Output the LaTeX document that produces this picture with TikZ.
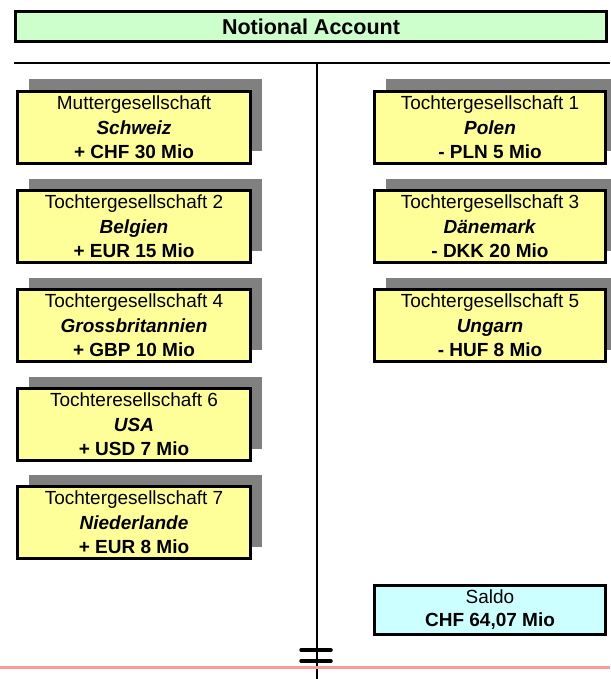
\documentclass[tikz,border=0pt]{standalone}
\usepackage{fontspec}
\setmainfont{Liberation Sans}
\usetikzlibrary{shadows}
\definecolor{titlegreen}{HTML}{CCFFCC}
\definecolor{boxyellow}{HTML}{FFFF99}
\definecolor{saldocyan}{HTML}{CCFFFF}
\definecolor{shadowgray}{HTML}{808080}
\definecolor{basered}{HTML}{FF9999}
\tikzset{
  titlebox/.style={draw=black, line width=3.5pt, fill=titlegreen, inner sep=0pt,
    minimum width=591pt, minimum height=30pt, font=\fontsize{21.5}{24}\selectfont\bfseries},
  company/.style={draw=black, line width=3.5pt, fill=boxyellow, inner sep=0pt,
    minimum height=72pt, align=center, font=\fontsize{19}{24.5}\selectfont,
    drop shadow={shadow xshift=11pt, shadow yshift=12pt, fill=shadowgray, opacity=1}},
  leftco/.style={company, minimum width=233pt},
  rightco/.style={company, minimum width=231pt},
  saldobox/.style={draw=black, line width=3.5pt, fill=saldocyan, inner sep=0pt,
    minimum width=231pt, minimum height=49pt, align=center, font=\fontsize{19}{23}\selectfont},
  busline/.style={line width=2.8pt, black},
  tick/.style={line width=3.5pt, black, line cap=round},
  baseline/.style={line width=3pt, basered}
}
\begin{document}
\begin{tikzpicture}[x=1pt,y=-1pt]
\useasboundingbox (0,0) rectangle (610,679);
% title
\node[titlebox] (title) at (311,26.5) {Notional Account};
% bus and trunk
\coordinate (busL) at (14,63);
\coordinate (busR) at (610,63);
\coordinate (trunkT) at (317,63);
\coordinate (trunkB) at (317,679);
\draw[busline] (busL) -- (busR);
\draw[busline] (trunkT) -- (trunkB);
% base line and ticks
\coordinate (redL) at (0,667);
\coordinate (redR) at (610,667);
\draw[baseline] (redL) -- (redR);
\coordinate (t1a) at (301,650);
\coordinate (t1b) at (331,650);
\coordinate (t2a) at (301,661);
\coordinate (t2b) at (331,661);
\draw[tick] (t1a) -- (t1b);
\draw[tick] (t2a) -- (t2b);
% left column
\node[leftco] (mutter) at (134,127.5) {Muttergesellschaft\\\textbf{\textit{Schweiz}}\\\textbf{+ CHF 30 Mio}};
\node[leftco] (t2) at (134,226.5) {Tochtergesellschaft 2\\\textbf{\textit{Belgien}}\\\textbf{+ EUR 15 Mio}};
\node[leftco] (t4) at (134,325.5) {Tochtergesellschaft 4\\\textbf{\textit{Grossbritannien}}\\\textbf{+ GBP 10 Mio}};
\node[leftco] (t6) at (134,424.5) {Tochteresellschaft 6\\\textbf{\textit{USA}}\\\textbf{+ USD 7 Mio}};
\node[leftco] (t7) at (134,522.5) {Tochtergesellschaft 7\\\textbf{\textit{Niederlande}}\\\textbf{+ EUR 8 Mio}};
% right column
\node[rightco] (t1) at (490,127.5) {Tochtergesellschaft 1\\\textbf{\textit{Polen}}\\\textbf{- PLN 5 Mio}};
\node[rightco] (t3) at (490,226.5) {Tochtergesellschaft 3\\\textbf{\textit{Dänemark}}\\\textbf{- DKK 20 Mio}};
\node[rightco] (t5) at (490,325.5) {Tochtergesellschaft 5\\\textbf{\textit{Ungarn}}\\\textbf{- HUF 8 Mio}};
% saldo
\node[saldobox] (saldo) at (490,610) {Saldo\\\textbf{CHF 64,07 Mio}};
\end{tikzpicture}
\end{document}
